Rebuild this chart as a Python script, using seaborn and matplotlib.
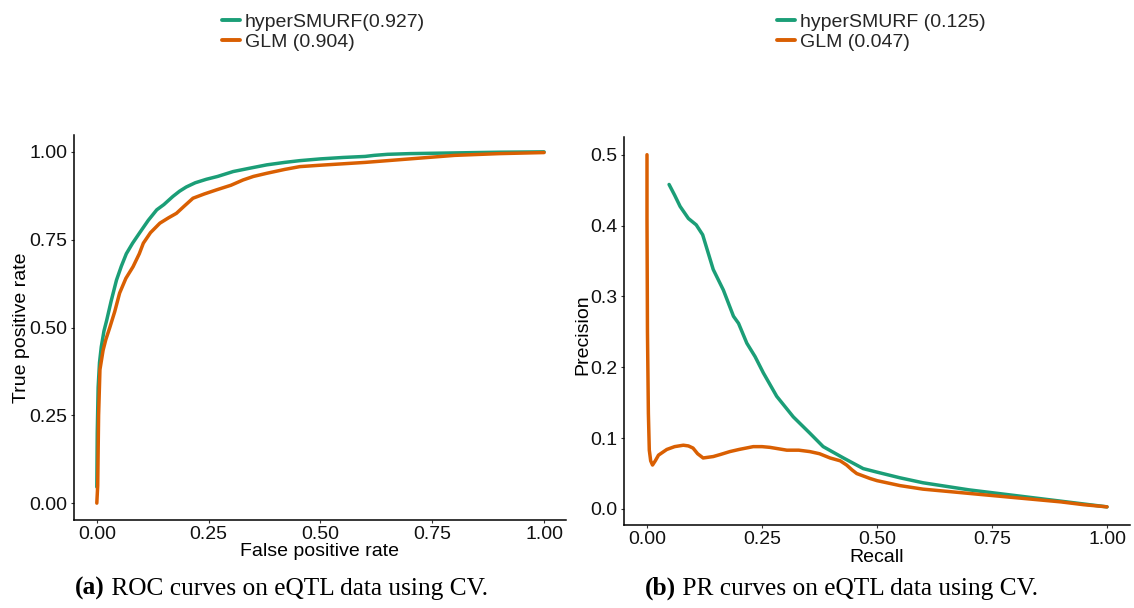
import numpy as np
import pandas as pd
import matplotlib
matplotlib.use("Agg")
import matplotlib.pyplot as plt
import seaborn as sns

# ---------------- data ----------------
models = ["hyperSMURF", "GLM"]
roc_labels = ["hyperSMURF(0.927)", "GLM (0.904)"]
pr_labels = ["hyperSMURF (0.125)", "GLM (0.047)"]
colors = ["#1b9e77", "#d95f02"]

roc_fpr_h = [0, 0.001, 0.003, 0.006, 0.01, 0.016, 0.022, 0.032, 0.044, 0.055, 0.066, 0.08,
             0.096, 0.115, 0.134, 0.15, 0.17, 0.185, 0.2, 0.22, 0.245, 0.27, 0.305, 0.34,
             0.38, 0.42, 0.454, 0.5, 0.55, 0.6, 0.62, 0.65, 0.7, 0.75, 0.8, 0.9, 1.0]
roc_tpr_h = [0.046, 0.2, 0.33, 0.4, 0.445, 0.49, 0.52, 0.575, 0.635, 0.675, 0.71, 0.74,
             0.77, 0.805, 0.835, 0.85, 0.873, 0.888, 0.90, 0.912, 0.922, 0.93, 0.944, 0.953,
             0.963, 0.97, 0.975, 0.98, 0.984, 0.987, 0.99, 0.993, 0.995, 0.996, 0.997, 0.999, 1.0]

roc_fpr_g = [0, 0.002, 0.004, 0.007, 0.014, 0.02, 0.029, 0.04, 0.051, 0.065, 0.081, 0.095,
             0.104, 0.12, 0.141, 0.16, 0.178, 0.195, 0.215, 0.24, 0.268, 0.3, 0.327, 0.35,
             0.38, 0.42, 0.454, 0.5, 0.55, 0.6, 0.65, 0.7, 0.75, 0.8, 0.9, 1.0]
roc_tpr_g = [0.0, 0.05, 0.25, 0.38, 0.435, 0.465, 0.50, 0.545, 0.598, 0.64, 0.673, 0.71,
             0.74, 0.77, 0.797, 0.812, 0.825, 0.845, 0.868, 0.88, 0.892, 0.905, 0.92, 0.93,
             0.939, 0.95, 0.958, 0.962, 0.966, 0.97, 0.975, 0.98, 0.985, 0.99, 0.995, 0.998]

pr_rec_h = [0.048, 0.06, 0.072, 0.09, 0.107, 0.121, 0.144, 0.166, 0.188, 0.199, 0.217, 0.235,
            0.253, 0.282, 0.318, 0.354, 0.383, 0.427, 0.47, 0.5, 0.55, 0.6, 0.65, 0.7, 0.75,
            0.8, 0.85, 0.9, 0.95, 1.0]
pr_prec_h = [0.458, 0.443, 0.427, 0.41, 0.401, 0.387, 0.338, 0.309, 0.272, 0.262, 0.234, 0.215,
             0.192, 0.159, 0.130, 0.107, 0.088, 0.072, 0.057, 0.052, 0.044, 0.037, 0.032, 0.027,
             0.023, 0.019, 0.015, 0.011, 0.007, 0.003]

pr_rec_g = [0.0, 0.0, 0.001, 0.003, 0.005, 0.008, 0.012, 0.018, 0.025, 0.043, 0.06, 0.079,
            0.09, 0.1, 0.11, 0.122, 0.144, 0.16, 0.18, 0.2, 0.231, 0.25, 0.267, 0.304, 0.33,
            0.354, 0.375, 0.398, 0.42, 0.434, 0.446, 0.456, 0.485, 0.5, 0.55, 0.6, 0.65, 0.7,
            0.75, 0.8, 0.85, 0.9, 0.95, 1.0]
pr_prec_g = [0.5, 0.41, 0.25, 0.135, 0.083, 0.068, 0.062, 0.068, 0.076, 0.084, 0.088, 0.09,
             0.089, 0.086, 0.078, 0.072, 0.074, 0.077, 0.081, 0.084, 0.088, 0.088, 0.087, 0.083,
             0.083, 0.081, 0.078, 0.072, 0.068, 0.062, 0.055, 0.050, 0.043, 0.040, 0.033, 0.028,
             0.025, 0.022, 0.019, 0.016, 0.013, 0.010, 0.006, 0.003]

roc_xticks = [0.00, 0.25, 0.50, 0.75, 1.00]
roc_yticks = [0.00, 0.25, 0.50, 0.75, 1.00]
pr_xticks = [0.00, 0.25, 0.50, 0.75, 1.00]
pr_yticks = [0.0, 0.1, 0.2, 0.3, 0.4, 0.5]

# ---------------- frames ----------------
roc_df = pd.concat([
    pd.DataFrame({"x": roc_fpr_h, "y": roc_tpr_h, "model": models[0]}),
    pd.DataFrame({"x": roc_fpr_g, "y": roc_tpr_g, "model": models[1]}),
], ignore_index=True)
pr_df = pd.concat([
    pd.DataFrame({"x": pr_rec_h, "y": pr_prec_h, "model": models[0]}),
    pd.DataFrame({"x": pr_rec_g, "y": pr_prec_g, "model": models[1]}),
], ignore_index=True)

sns.set_theme(style="white")
plt.rcParams["font.family"] = ["Liberation Sans", "DejaVu Sans"]

W, H = 1134, 608
fig = plt.figure(figsize=(W / 100, H / 100), dpi=100)
fig.patch.set_facecolor("white")

def fx(px):
    return px / W

def fy(py):
    return 1 - py / H

ax1 = fig.add_axes([fx(74), fy(520), fx(566) - fx(74), fy(135) - fy(520)])
ax2 = fig.add_axes([fx(624), fy(525), fx(1130) - fx(624), fy(137) - fy(525)])

palette = dict(zip(models, colors))
for ax, df in [(ax1, roc_df), (ax2, pr_df)]:
    sns.lineplot(data=df, x="x", y="y", hue="model", hue_order=models, palette=palette,
                 sort=False, estimator=None, linewidth=2.5, ax=ax, legend=True)
    ax.get_legend().remove()

ax1.set_xlim(-0.051, 1.049)
ax1.set_ylim(-0.048, 1.048)
ax2.set_xlim(-0.05, 1.05)
ax2.set_ylim(-0.0226, 0.525)

ax1.set_xticks(roc_xticks)
ax1.set_xticklabels([f"{v:.2f}" for v in roc_xticks])
ax1.set_yticks(roc_yticks)
ax1.set_yticklabels([f"{v:.2f}" for v in roc_yticks])
ax2.set_xticks(pr_xticks)
ax2.set_xticklabels([f"{v:.2f}" for v in pr_xticks])
ax2.set_yticks(pr_yticks)
ax2.set_yticklabels([f"{v:.1f}" for v in pr_yticks])

ax1.set_xlabel("False positive rate", fontsize=14, color="black")
ax1.set_ylabel("True positive rate", fontsize=14, color="black")
ax2.set_xlabel("Recall", fontsize=14, color="black")
ax2.set_ylabel("Precision", fontsize=14, color="black")

for ax in (ax1, ax2):
    sns.despine(ax=ax)
    for s in ("left", "bottom"):
        ax.spines[s].set_color("black")
        ax.spines[s].set_linewidth(1.1)
    ax.tick_params(axis="both", which="major", direction="out", length=2.5, width=0.8,
                   color="#333333", labelsize=14, labelcolor="#111111", pad=2,
                   left=True, bottom=True)
    ax.grid(False)

ax1.xaxis.set_label_coords(0.5, -0.06)
ax2.xaxis.set_label_coords(0.5, -0.062)
ax1.yaxis.set_label_coords(-0.089, 0.5)
ax2.yaxis.set_label_coords(-0.064, 0.49)

# legends at top, centered over each panel
for ax, labels, x0 in [(ax1, roc_labels, 222), (ax2, pr_labels, 777)]:
    handles, _ = ax.get_legend_handles_labels()
    leg = fig.legend(handles[:2], labels, loc="upper left", bbox_to_anchor=(fx(x0), fy(13)),
                     frameon=False, fontsize=14, handlelength=0.95, handletextpad=0.22,
                     labelspacing=0.15, borderpad=0, borderaxespad=0)
    for line in leg.get_lines():
        line.set_linewidth(2.8)

# captions with bold (a)/(b)
fig.canvas.draw()
renderer = fig.canvas.get_renderer()
serif = ["Liberation Serif", "DejaVu Serif"]
for tag, rest, x0 in [("(a)", " ROC curves on eQTL data using CV.", 75),
                      ("(b)", " PR curves on eQTL data using CV.", 645)]:
    t = fig.text(fx(x0), fy(595), tag, fontsize=18.3, fontweight="bold", family=serif,
                 ha="left", va="baseline", color="black")
    bb = t.get_window_extent(renderer)
    fig.text(bb.x1 / W, fy(595), rest, fontsize=18.3, family=serif,
             ha="left", va="baseline", color="black")

fig.savefig("out.png", dpi=100, facecolor="white")
